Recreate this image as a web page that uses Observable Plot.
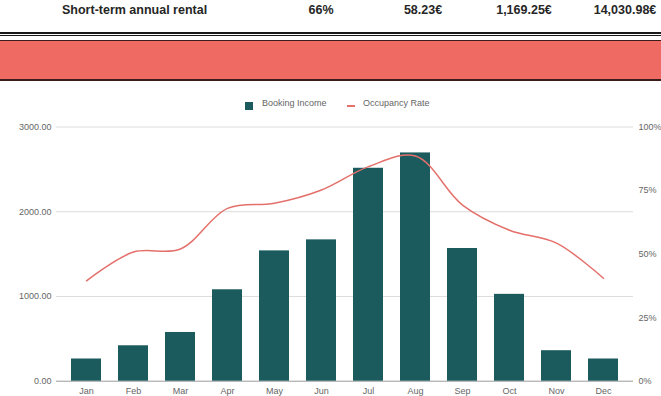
<!DOCTYPE html>
<html>
<head>
<meta charset="utf-8">
<script src="https://cdn.jsdelivr.net/npm/d3@7"></script>
<script src="https://cdn.jsdelivr.net/npm/@observablehq/plot@0.6"></script>
<style>
  html, body { margin: 0; padding: 0; background: #fff; }
  body { width: 661px; height: 396px; overflow: hidden; font-family: "Liberation Sans", Arial, sans-serif; }
  #header { position: relative; height: 85px; }
  .hdr { position: absolute; top: 3px; font-weight: bold; font-size: 12.5px; color: #262626; white-space: nowrap; }
  .ctr { transform: translateX(-50%); }
  .dline { position: absolute; left: 0; width: 661px; height: 1.5px; background: #1a1a1a; }
  #band { position: absolute; left: 0; width: 661px; top: 40px; height: 38px; background: #f06a64;
          border-top: 1.5px solid #3b1c1a; border-bottom: 2px solid #3b1c1a; }
  #legend { position: relative; height: 30px; font-size: 9px; color: #666; }
  .lg { position: absolute; top: 13px; white-space: nowrap; }
  .sw { position: absolute; }
  #chart svg { display: block; }
</style>
</head>
<body>
<div id="header"></div>
<div id="legend"></div>
<div id="chart"></div>
<script>
// Header row
const headerLabel = "Short-term annual rental";
const headerValues = ["66%", "58.23€", "1,169.25€", "14,030.98€"];

// Chart data
const months = ["Jan", "Feb", "Mar", "Apr", "May", "Jun", "Jul", "Aug", "Sep", "Oct", "Nov", "Dec"];
const bookingIncome = [262, 418, 575, 1079, 1538, 1668, 2513, 2694, 1566, 1025, 360, 262];
const occupancyRate = [0.395, 0.508, 0.52, 0.68, 0.70, 0.752, 0.844, 0.886, 0.693, 0.594, 0.543, 0.405];
const incomeTicks = [0, 1000, 2000, 3000];
const rateTicks = [0, 0.25, 0.5, 0.75, 1];
const seriesNames = ["Booking Income", "Occupancy Rate"];

const barColor = "#1b5b5e";
const lineColor = "#e4706c";

// Header
const header = document.getElementById("header");
const hdrPos = [321, 423, 524, 625];
let el = document.createElement("div");
el.className = "hdr"; el.style.left = "62px"; el.textContent = headerLabel;
header.appendChild(el);
headerValues.forEach((v, i) => {
  const e = document.createElement("div");
  e.className = "hdr ctr"; e.style.left = hdrPos[i] + "px"; e.textContent = v;
  header.appendChild(e);
});
[32, 34.7].forEach(t => {
  const d = document.createElement("div");
  d.className = "dline"; d.style.top = t + "px";
  header.appendChild(d);
});
const bandDiv = document.createElement("div");
bandDiv.id = "band";
header.appendChild(bandDiv);

// Legend
const legend = document.getElementById("legend");
legend.innerHTML = `
  <div class="sw" style="left:245px;top:17px;width:8px;height:8px;background:${barColor}"></div>
  <div class="lg" style="left:262px">${seriesNames[0]}</div>
  <div class="sw" style="left:347px;top:20px;width:8px;height:2px;background:${lineColor}"></div>
  <div class="lg" style="left:363px">${seriesNames[1]}</div>`;

const data = months.map((m, i) => ({month: m, income: bookingIncome[i], rate: occupancyRate[i]}));
const yMax = incomeTicks[incomeTicks.length - 1];

const chart = Plot.plot({
  width: 661,
  height: 281,
  marginLeft: 56,
  marginRight: 28,
  marginTop: 11.5,
  marginBottom: 15.3,
  style: {fontFamily: "Liberation Sans, Arial, sans-serif", fontSize: "9px", color: "#666", background: "transparent"},
  x: {type: "band", domain: months, paddingInner: 0.36, paddingOuter: 0.31, axis: null},
  y: {domain: [0, yMax], axis: null},
  marks: [
    Plot.gridY(incomeTicks.filter(d => d > 0), {stroke: "#dcdcdc", strokeOpacity: 1}),
    Plot.ruleY([0], {stroke: "#9a9a9a"}),
    Plot.barY(data, {x: "month", y: "income", fill: barColor}),
    Plot.line(data, {x: "month", y: d => d.rate * yMax, stroke: lineColor, strokeWidth: 1.5, curve: "catmull-rom"}),
    Plot.axisY(incomeTicks, {anchor: "left", tickSize: 0, tickPadding: 5, tickFormat: d => d.toFixed(2), label: null}),
    Plot.axisY(rateTicks.map(r => r * yMax), {anchor: "right", tickSize: 0, tickPadding: 5, tickFormat: d => Math.round(d / yMax * 100) + "%", label: null}),
    Plot.axisX({tickSize: 0, tickPadding: 6, label: null})
  ]
});
document.getElementById("chart").appendChild(chart);
</script>
</body>
</html>
